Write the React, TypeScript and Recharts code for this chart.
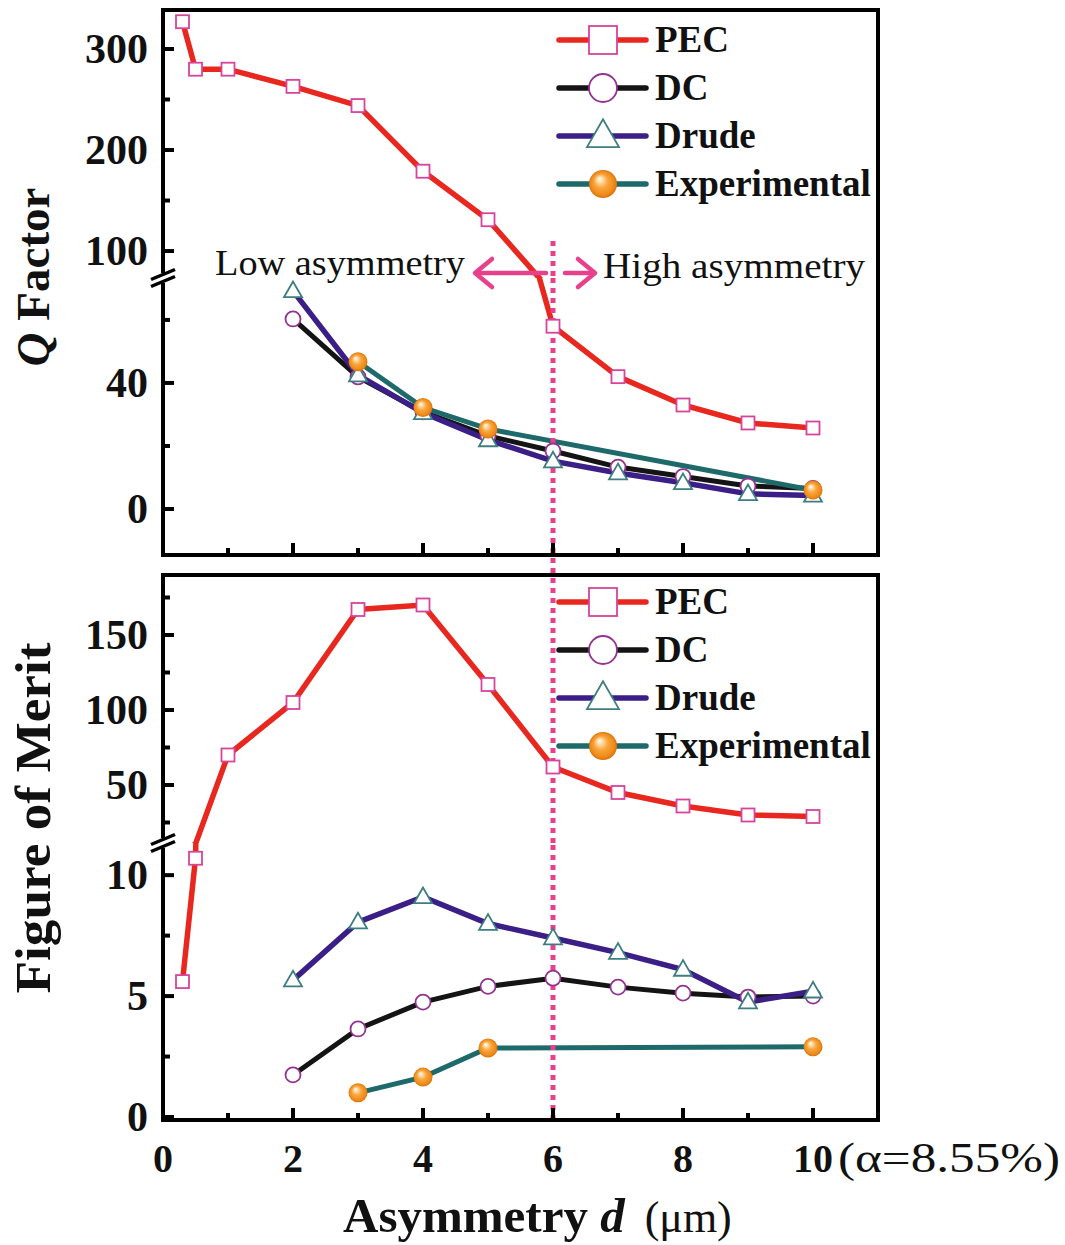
import React from 'react';
import { LineChart, Line, XAxis, YAxis, ReferenceLine } from 'recharts';

// asymmetry d (um) for each series
const dPec = [0.3, 0.5, 1, 2, 3, 4, 5, 6, 7, 8, 9, 10];
const dSim = [2, 3, 4, 5, 6, 7, 8, 9, 10];
const dExp = [3, 4, 5, 10];

// Q factor
const qPec = [327, 280, 280, 263, 244, 179, 131, 58, 42, 33, 27.3, 25.7];
const qDc = [60.3, 41.9, 30.8, 23.2, 18.4, 13.3, 10.3, 7.3, 6.5];
const qDrude = [69.2, 42.5, 30.5, 21.9, 15.2, 11.4, 8.3, 4.8, 4.3];
const qExp = [46.7, 32.2, 25.4, 6];

// figure of merit
const fomPec = [5.6, 10.7, 70, 105, 167, 170, 117, 62, 45, 36, 30, 29];
const fomDc = [1.74, 3.64, 4.75, 5.4, 5.74, 5.37, 5.12, 4.96, 5.0];
const fomDrude = [5.66, 8.06, 9.1, 8.0, 7.4, 6.8, 6.1, 4.75, 5.2];
const fomExp = [1.0, 1.65, 2.85, 2.9];

const xTicks = [0, 1, 2, 3, 4, 5, 6, 7, 8, 9, 10];
const seriesNames = ['PEC', 'DC', 'Drude', 'Experimental'];

const FONT = '"Liberation Serif", "Times New Roman", serif';
const X0 = 163;
const PW = 715;
const YW = 100;
const PINK = '#E8418C';

type Kind = 'square' | 'circle' | 'triangle' | 'sphere';
const styles: { color: string; width: number; kind: Kind; size: number }[] = [
  { color: '#E8281F', width: 5.5, kind: 'square', size: 13 },
  { color: '#141414', width: 5, kind: 'circle', size: 15 },
  { color: '#3B1F86', width: 5.5, kind: 'triangle', size: 18 },
  { color: '#1E6A6B', width: 5, kind: 'sphere', size: 19 },
];

const pts = (xs: number[], ys: number[]) => xs.map((x, i) => ({ x, y: ys[i] }));
const qSeries = [pts(dPec, qPec), pts(dSim, qDc), pts(dSim, qDrude), pts(dExp, qExp)];
const fomSeries = [pts(dPec, fomPec), pts(dSim, fomDc), pts(dSim, fomDrude), pts(dExp, fomExp)];

const Marker = ({ kind, cx, cy, s }: { kind: Kind; cx: number; cy: number; s: number }) => {
  if (kind === 'square')
    return <rect x={cx - s / 2} y={cy - s / 2} width={s} height={s} fill="#fff" stroke="#D6449C" strokeWidth={1.8} />;
  if (kind === 'circle') return <circle cx={cx} cy={cy} r={s / 2} fill="#fff" stroke="#93338F" strokeWidth={1.8} />;
  if (kind === 'triangle') {
    const h = s * 0.87;
    return (
      <polygon
        points={`${cx},${cy - h * 0.6} ${cx - s / 2},${cy + h * 0.4} ${cx + s / 2},${cy + h * 0.4}`}
        fill="#fff"
        stroke="#3E7E80"
        strokeWidth={1.8}
      />
    );
  }
  return <circle cx={cx} cy={cy} r={s / 2} fill="url(#orangeBall)" />;
};

interface Seg {
  top: number;
  h: number;
  domain: [number, number];
  ticks: number[];
  labels: number[];
  xAxis: 'none' | 'ticks' | 'labels';
  ref: [number, number] | null;
}

const Segment = ({ seg, data }: { seg: Seg; data: { x: number; y: number }[][] }) => {
  const xH = seg.xAxis === 'none' ? 0 : seg.xAxis === 'ticks' ? 30 : 80;
  const height = 10 + seg.h + (xH || 10);
  const bottom = 10 + seg.h;
  const [lo, hi] = seg.domain;

  const yTick = (p: any) => {
    const v = p.payload.value;
    const major = seg.labels.includes(v);
    return (
      <g key={`y${v}`}>
        <line x1={YW} x2={YW + (major ? 11 : 7)} y1={p.y} y2={p.y} stroke="#000" strokeWidth={4} />
        {major && (
          <text x={YW - 15} y={p.y} dy={14} textAnchor="end" fontSize={42} fontWeight="bold" fontFamily={FONT} fill="#111">
            {v}
          </text>
        )}
      </g>
    );
  };

  const xTick = (p: any) => {
    const v = p.payload.value;
    const major = v % 2 === 0;
    return (
      <g key={`x${v}`}>
        <line x1={p.x} x2={p.x} y1={bottom} y2={bottom - (major ? 12 : 7)} stroke="#000" strokeWidth={4} />
        {seg.xAxis === 'labels' && major && (
          <text x={p.x} y={bottom + 52} textAnchor="middle" fontSize={40} fontWeight="bold" fontFamily={FONT} fill="#111">
            {v}
          </text>
        )}
      </g>
    );
  };

  const dotFn = (k: number) => (p: any) => {
    const { cx, cy, index, payload } = p;
    if (cx == null || cy == null || payload.y < lo || payload.y > hi) return <g key={index} />;
    return (
      <g key={index}>
        <Marker kind={styles[k].kind} cx={cx} cy={cy} s={styles[k].size} />
      </g>
    );
  };

  const refStyle = { stroke: PINK, strokeWidth: 5, strokeDasharray: '5 5' };

  return (
    <div style={{ position: 'absolute', left: X0 - YW, top: seg.top - 10 }}>
      <LineChart width={YW + PW} height={height} margin={{ top: 10, right: 0, bottom: xH ? 0 : 10, left: 0 }}>
        <XAxis
          type="number"
          dataKey="x"
          domain={[0, 11]}
          ticks={xTicks}
          interval={0}
          allowDataOverflow
          hide={seg.xAxis === 'none'}
          height={xH || 1}
          axisLine={false}
          tickLine={false}
          tickMargin={0}
          tick={xTick}
        />
        <YAxis
          type="number"
          domain={seg.domain}
          ticks={seg.ticks}
          interval={0}
          allowDataOverflow
          width={YW}
          axisLine={false}
          tickLine={false}
          tickMargin={0}
          tick={yTick}
        />
        {data.map((d, k) => (
          <Line
            key={seriesNames[k]}
            name={seriesNames[k]}
            data={d}
            dataKey="y"
            type="linear"
            stroke={styles[k].color}
            strokeWidth={styles[k].width}
            dot={dotFn(k)}
            activeDot={false}
            isAnimationActive={false}
          />
        ))}
        {seg.ref ? (
          <ReferenceLine
            segment={[{ x: 6, y: seg.ref[0] }, { x: 6, y: seg.ref[1] }]}
            ifOverflow="visible"
            {...refStyle}
            style={refStyle}
          />
        ) : (
          <ReferenceLine x={6} {...refStyle} style={refStyle} />
        )}
      </LineChart>
    </div>
  );
};

const qUpper: Seg = { top: 10, h: 268, domain: [73.3, 338.6], ticks: [100, 150, 200, 250, 300], labels: [100, 200, 300], xAxis: 'none', ref: [110, 73.3] };
const qLower: Seg = { top: 278, h: 277, domain: [-14.6, 73.3], ticks: [0, 20, 40, 60], labels: [0, 40], xAxis: 'ticks', ref: [73.3, -21] };
const fUpper: Seg = { top: 575, h: 268, domain: [11.33, 190], ticks: [25, 50, 75, 100, 125, 150, 175], labels: [50, 100, 150], xAxis: 'none', ref: null };
const fLower: Seg = { top: 843, h: 277, domain: [-0.124, 11.33], ticks: [0, 2.5, 5, 7.5, 10], labels: [0, 5, 10], xAxis: 'labels', ref: null };

const Legend = ({ top }: { top: number }) => (
  <g>
    {seriesNames.map((n, k) => {
      const y = top + k * 48;
      const s = styles[k];
      return (
        <g key={n}>
          <line x1={559} x2={646} y1={y} y2={y} stroke={s.color} strokeWidth={5.5} strokeLinecap="round" />
          <Marker kind={s.kind} cx={603} cy={y} s={s.kind === 'triangle' ? 32 : 28} />
          <text x={655} y={y + 12} fontSize={37} fontWeight="bold" fontFamily={FONT} fill="#111">
            {n}
          </text>
        </g>
      );
    })}
  </g>
);

const Frame = ({ top, bottom, brk }: { top: number; bottom: number; brk: number }) => (
  <g stroke="#000" strokeWidth={4} fill="none">
    <path d={`M${X0},${brk - 5} L${X0},${top} L${X0 + PW},${top} L${X0 + PW},${bottom} L${X0},${bottom} L${X0},${brk + 5}`} />
    <line x1={151} y1={brk + 1.5} x2={175} y2={brk - 8.5} strokeWidth={3.5} />
    <line x1={151} y1={brk + 8.5} x2={175} y2={brk - 1.5} strokeWidth={3.5} />
  </g>
);

export default function App() {
  return (
    <div style={{ position: 'absolute', left: 0, top: 0, width: 1065, height: 1245, background: '#fff', fontFamily: FONT }}>
      <svg width={0} height={0} style={{ position: 'absolute' }}>
        <defs>
          <radialGradient id="orangeBall" cx="0.5" cy="0.5" r="0.5" fx="0.36" fy="0.3">
            <stop offset="0%" stopColor="#FFFFFF" />
            <stop offset="18%" stopColor="#FFE0B0" />
            <stop offset="50%" stopColor="#F9A43A" />
            <stop offset="85%" stopColor="#EE8A1A" />
            <stop offset="100%" stopColor="#D97008" />
          </radialGradient>
        </defs>
      </svg>
      <Segment seg={qUpper} data={qSeries} />
      <Segment seg={qLower} data={qSeries} />
      <Segment seg={fUpper} data={fomSeries} />
      <Segment seg={fLower} data={fomSeries} />
      <svg width={1065} height={1245} style={{ position: 'absolute', left: 0, top: 0, pointerEvents: 'none' }}>
        <Frame top={10} bottom={555} brk={278} />
        <Frame top={575} bottom={1120} brk={843} />
        <Legend top={40} />
        <Legend top={602} />

        <text x={215} y={275} fontSize={36} fontFamily={FONT} fill="#111" textLength={250} lengthAdjust="spacingAndGlyphs">
          Low asymmetry
        </text>
        <text x={603} y={278} fontSize={36} fontFamily={FONT} fill="#111" textLength={262} lengthAdjust="spacingAndGlyphs">
          High asymmetry
        </text>
        <g stroke={PINK} strokeWidth={4.5} fill="none" strokeLinecap="round" strokeLinejoin="round">
          <line x1={546} y1={273} x2={476} y2={273} />
          <polyline points="492,259 475,273 492,287" />
          <line x1={565} y1={273} x2={593} y2={273} />
          <polyline points="578,259 595,273 578,287" />
        </g>

        <text transform="translate(49,277) rotate(-90)" textAnchor="middle" fontSize={47} fontWeight="bold" fontFamily={FONT} fill="#111">
          <tspan fontStyle="italic">Q</tspan> Factor
        </text>
        <text
          transform="translate(50,818) rotate(-90)"
          textAnchor="middle"
          fontSize={50}
          fontWeight="bold"
          fontFamily={FONT}
          fill="#111"
          textLength={351}
          lengthAdjust="spacingAndGlyphs"
        >
          Figure of Merit
        </text>
        <text x={838} y={1172} fontSize={42} fontFamily={FONT} fill="#111" textLength={222} lengthAdjust="spacingAndGlyphs">
          (α=8.55%)
        </text>
        <text x={343} y={1232} fontFamily={FONT} fill="#111">
          <tspan fontSize={49} fontWeight="bold">Asymmetry </tspan>
          <tspan fontSize={49} fontWeight="bold" fontStyle="italic">d</tspan>
          <tspan fontSize={44} dx={20}>(μm)</tspan>
        </text>
      </svg>
    </div>
  );
}
